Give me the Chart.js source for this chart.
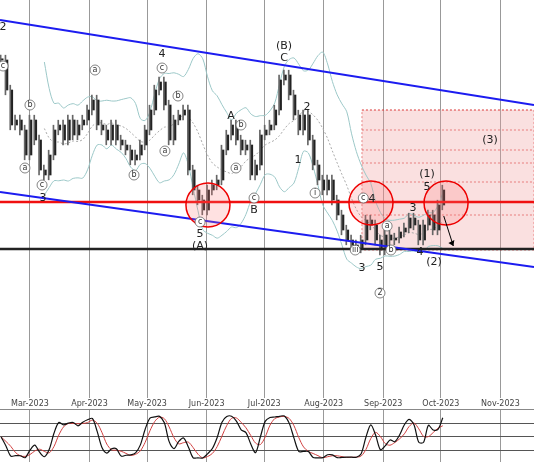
<!DOCTYPE html>
<html><head><meta charset="utf-8">
<script src="https://cdn.jsdelivr.net/npm/chart.js@4.4.0/dist/chart.umd.min.js"></script>
<style>body{margin:0;background:#fff;overflow:hidden}#m{position:absolute;left:0;top:0;width:534px;height:398px}#o{position:absolute;left:0;top:398px;width:534px;height:64px}</style>
</head><body>
<div id="m"><canvas id="c1"></canvas></div><div id="o"><canvas id="c2"></canvas></div>
<script>
// day index counted from 1 Feb 2023
const startDay = 13, stepDays = 2.5;
const closes = [85,77.5,68.75,70,67.5,61.25,70,65,57.5,56.25,61.25,67.5,68.75,65,70,66.25,68.75,70,72.5,75,
68.75,67.5,65,68.75,65,63.75,62.5,60,61.25,63.75,67.5,72.5,77.5,79.5,73.75,65,70,71.25,72.5,57.5,
52.5,50,47.5,52.5,53.75,55,62.5,66.25,68.75,65,62.5,63.75,56.25,58.75,66.25,67.5,68.75,72.5,80,81.25,
76.25,71.25,67.5,71.25,65,58.75,55,52.5,55,50,46.25,42.5,40,38.75,38,40,45,43.75,40,37.5,
41.25,40,40.5,42,43,45.5,43.75,40,43.75,46.25,42.5,48.75,52.5];
const monthNames = ['Mar-2023','Apr-2023','May-2023','Jun-2023','Jul-2023','Aug-2023','Sep-2023','Oct-2023','Nov-2023'];
const monthDays = [28,59,89,120,150,181,212,242,273];
const upperChannel = [[12.4,95],[290.5,73.75]];
const lowerChannel = [[12.4,52],[290.5,33.25]];
const redLevel = 49.5, blackLevel = 37.75;
const circles = [[120.7,48.75],[205.6,49.25],[244.7,49.25]];
const zoneBox = [200.9,290.5,37.5,72.5];
const zoneLevels = [72.5,67.5,62.5,59.25,54.5,46.25];
const waveLabels = [
 [14,93.25,'2',0],[14,83.5,'c',1],[28,73.75,'b',1],[25.4,58,'a',1],[34.3,53.75,'c',1],[34.8,50.5,'3',0],
 [61.9,82.5,'a',1],[82.2,56.25,'b',1],[96.8,86.5,'4',0],[96.8,83,'c',1],[105.1,76,'b',1],[98.3,62.25,'a',1],
 [116.6,44.5,'c',1],[116.6,41.5,'5',0],[116.6,38.5,'(A)',0],[132.7,71,'A',0],[137.9,68.75,'b',1],[135.3,58,'a',1],
 [144.7,50.5,'c',1],[144.7,47.5,'B',0],[160.3,88.5,'(B)',0],[160.3,85.5,'C',0],[172.3,73.25,'2',0],[167.6,60,'1',0],
 [176.5,51.75,'i',1],[197.4,37.5,'iii',1],[201.6,50.5,'c',1],[200.9,33,'3',0],[206.1,50.25,'4',0],[210.3,33.25,'5',0],
 [210.3,26.75,'2',1],[216,37.5,'b',1],[214,43.5,'a',1],[227.5,48,'3',0],[234.8,56.5,'(1)',0],[234.8,53.25,'5',0],
 [231.1,37,'4',0],[238.4,34.5,'(2)',0],[267.6,65,'(3)',0]];
const days = closes.map((c,i)=>startDay+i*stepDays);
const wicks = closes.map((c,i)=>{const p=i?closes[i-1]:c;return {x:days[i],y:[Math.min(p,c)-1.2,Math.max(p,c)+1.2]};});
const bodies = closes.map((c,i)=>{const p=i?closes[i-1]:c;return {x:days[i],y:[p,c===p?c+0.3:c]};});
const N=10, mid=[],up=[],lo=[];
closes.forEach((c,i)=>{if(i<N-1)return;const w=closes.slice(i-N+1,i+1);const m=w.reduce((a,b)=>a+b)/N;const s=Math.sqrt(w.reduce((a,b)=>a+(b-m)**2,0)/N);mid.push({x:days[i],y:m});up.push({x:days[i],y:m+2*s});lo.push({x:days[i],y:m-2*s});});
const K=[];closes.forEach((c,i)=>{const w=closes.slice(Math.max(0,i-6),i+1);const h=Math.max(...w)+1,l=Math.min(...w)-1;K.push(100*(c-l)/(h-l));});
const Ks=K.map((v,i)=>{const w=K.slice(Math.max(0,i-1),i+1);return w.reduce((a,b)=>a+b)/w.length;});
const Dl=Ks.map((v,i)=>{const w=Ks.slice(Math.max(0,i-2),i+1);return w.reduce((a,b)=>a+b)/w.length;});
const X0=12.4,X1=290.5;
const lineDs=(pts,color,w,dash)=>({type:'line',data:pts.map(p=>({x:p[0],y:p[1]})),borderColor:color,borderWidth:w,borderDash:dash||[],pointRadius:0,fill:false,order:0});
const overlay={id:'ov',beforeDatasetsDraw(ch){const {ctx,scales:{x,y}}=ch;ctx.save();
 const bx0=x.getPixelForValue(zoneBox[0]),bx1=x.getPixelForValue(zoneBox[1]),by0=y.getPixelForValue(zoneBox[3]),by1=y.getPixelForValue(zoneBox[2]);
 ctx.fillStyle='rgba(240,160,160,0.33)';ctx.fillRect(bx0,by0,bx1-bx0,by1-by0);
 ctx.strokeStyle='rgba(220,60,60,0.6)';ctx.setLineDash([2,2]);ctx.lineWidth=1;ctx.strokeRect(bx0,by0,bx1-bx0,by1-by0);
 zoneLevels.forEach(v=>{const yy=y.getPixelForValue(v);ctx.beginPath();ctx.moveTo(bx0,yy);ctx.lineTo(bx1,yy);ctx.stroke();});
 ctx.setLineDash([]);ctx.restore();},
 afterDatasetsDraw(ch){const {ctx,scales:{x,y}}=ch;ctx.save();
 circles.forEach(c=>{ctx.beginPath();ctx.arc(x.getPixelForValue(c[0]),y.getPixelForValue(c[1]),22,0,Math.PI*2);ctx.fillStyle='rgba(255,120,120,0.22)';ctx.fill();ctx.strokeStyle='#e00';ctx.lineWidth=1.5;ctx.stroke();});
 ctx.textAlign='center';ctx.textBaseline='middle';
 waveLabels.forEach(l=>{const px=x.getPixelForValue(l[0]),py=y.getPixelForValue(l[1]);
  if(l[3]){ctx.beginPath();ctx.arc(px,py,5,0,Math.PI*2);ctx.fillStyle='#fff';ctx.fill();ctx.strokeStyle='#666';ctx.lineWidth=0.8;ctx.stroke();ctx.fillStyle='#333';ctx.font='8px DejaVu Sans';ctx.fillText(l[2],px,py);}
  else{ctx.fillStyle='#222';ctx.font='11px DejaVu Sans';ctx.fillText(l[2],px,py);}});
 const ax=x.getPixelForValue(243.5),ay=y.getPixelForValue(46),bx=x.getPixelForValue(248.5),by=y.getPixelForValue(38.5);
 ctx.strokeStyle='#000';ctx.lineWidth=1;ctx.beginPath();ctx.moveTo(ax,ay);ctx.lineTo(bx,by);ctx.stroke();
 ctx.beginPath();ctx.moveTo(bx,by);ctx.lineTo(bx-5,by-3);ctx.lineTo(bx+1,by-6);ctx.closePath();ctx.fillStyle='#000';ctx.fill();
 ctx.restore();}};
const xScale=(top)=>({type:'linear',min:X0,max:X1,offset:false,position:top?'top':'bottom',afterBuildTicks(s){s.ticks=monthDays.map(v=>({value:v}));},
 ticks:{display:!!top,autoSkip:false,padding:1,font:{size:8,family:'DejaVu Sans'},color:'#444',callback:(v)=>monthNames[monthDays.indexOf(v)]},
 grid:{color:'#999',borderDash:[2,2],drawTicks:false,offset:false},border:{display:!!top,color:'#888'}});
new Chart(document.getElementById('c1'),{type:'bar',
 data:{datasets:[
  {data:wicks,backgroundColor:'#666',barThickness:1,order:2},
  {data:bodies,backgroundColor:'#222',barThickness:2,order:2},
  {type:'line',data:up,borderColor:'#9cc8c8',borderWidth:1,pointRadius:0,tension:0.3,order:3},
  {type:'line',data:lo,borderColor:'#9cc8c8',borderWidth:1,pointRadius:0,tension:0.3,order:3},
  {type:'line',data:mid,borderColor:'#aaa',borderWidth:1,borderDash:[2,2],pointRadius:0,tension:0.3,order:3},
  lineDs(upperChannel,'#1c1cf0',2),lineDs(lowerChannel,'#1c1cf0',2),
  lineDs([[X0,redLevel],[X1,redLevel]],'#f01010',2.5),lineDs([[X0,blackLevel],[X1,blackLevel]],'#222',2.5)]},
 options:{animation:false,responsive:true,maintainAspectRatio:false,layout:{padding:0},
  plugins:{legend:{display:false},tooltip:{enabled:false}},
  scales:{x:xScale(false),y:{min:0.5,max:100,display:false}}},plugins:[overlay]});
new Chart(document.getElementById('c2'),{type:'line',
 data:{datasets:[
  {data:Ks.map((v,i)=>({x:days[i],y:v})),borderColor:'#111',borderWidth:1.2,pointRadius:0,tension:0.3},
  {data:Dl.map((v,i)=>({x:days[i],y:v})),borderColor:'#d04040',borderWidth:1,pointRadius:0,tension:0.3}]},
 options:{animation:false,responsive:true,maintainAspectRatio:false,layout:{padding:0},
  plugins:{legend:{display:false},tooltip:{enabled:false}},
  scales:{x:xScale(true),y:{min:-5,max:110,display:true,afterBuildTicks(s){s.ticks=[{value:20},{value:50},{value:80}];},
   ticks:{display:false},grid:{color:'#555',lineWidth:1,borderDash:(c)=>c.tick&&c.tick.value===50?[3,3]:[],drawTicks:false},border:{display:false}}}}});
</script></body></html>
